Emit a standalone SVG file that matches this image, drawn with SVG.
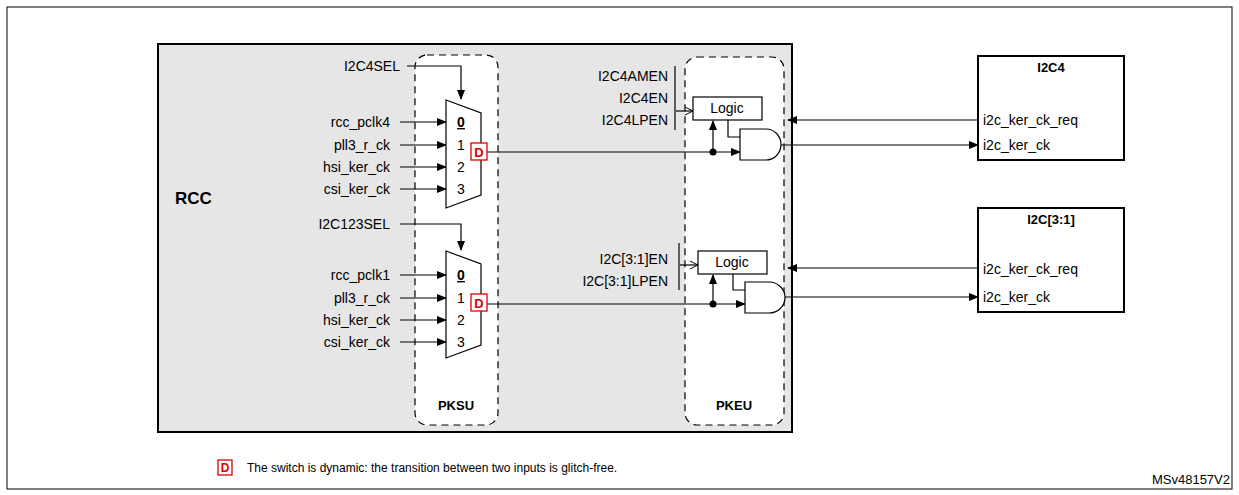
<svg xmlns="http://www.w3.org/2000/svg" width="1239" height="495" viewBox="0 0 1239 495">
<defs>
<marker id="ar" markerWidth="10" markerHeight="8" refX="9" refY="4" orient="auto" markerUnits="userSpaceOnUse"><path d="M0,0 L10,4 L0,8 z" fill="#000"/></marker>
<marker id="op" markerWidth="10" markerHeight="10" refX="9" refY="5" orient="auto" markerUnits="userSpaceOnUse"><path d="M1,1 L9,5 L1,9" fill="none" stroke="#000"/></marker>
</defs>
<style>
text{font-family:"Liberation Sans",Arial,sans-serif;font-size:14px;fill:#000}
.r{text-anchor:end}.m{text-anchor:middle}.b{font-weight:bold}
.l{stroke:#000;stroke-width:1.2;fill:none}
.dash{fill:#fff;stroke:#000;stroke-width:1.2;stroke-dasharray:7,5}
.box{fill:#fff;stroke:#000;stroke-width:1.2}
.tb{fill:#fff;stroke:#000;stroke-width:2}
.d{fill:#fff;stroke:#d00;stroke-width:1.3}
.dt{fill:#d00;font-weight:bold;font-size:13px;text-anchor:middle}
</style>
<rect x="7" y="7" width="1225" height="482" fill="#fff" stroke="#000" stroke-width="1"/>
<g id="rcc"><rect x="158" y="44" width="634" height="388" fill="#e6e6e6" stroke="#000" stroke-width="2"/><text x="175" y="204" class="b" style="font-size:17px">RCC</text></g>
<g id="pksu"><rect x="415" y="55" width="83" height="370" rx="12" class="dash"/><text x="456" y="410" class="m b" style="font-size:13px">PKSU</text></g>
<g id="pkeu"><rect x="685" y="57" width="99" height="368" rx="12" class="dash"/><text x="734" y="410" class="m b" style="font-size:13px">PKEU</text></g>
<g id="connectors">
<path class="l" d="M407,66 H461 V99" marker-end="url(#ar)"/>
<path class="l" d="M400,122 H446" marker-end="url(#ar)"/>
<path class="l" d="M400,145 H446" marker-end="url(#ar)"/>
<path class="l" d="M400,167 H446" marker-end="url(#ar)"/>
<path class="l" d="M400,189 H446" marker-end="url(#ar)"/>
<path class="l" d="M400,224 H461 V250" marker-end="url(#ar)"/>
<path class="l" d="M400,275 H446" marker-end="url(#ar)"/>
<path class="l" d="M400,298 H446" marker-end="url(#ar)"/>
<path class="l" d="M400,320 H446" marker-end="url(#ar)"/>
<path class="l" d="M400,342 H446" marker-end="url(#ar)"/>
<path class="l" d="M487,152 H740" marker-end="url(#ar)"/>
<circle cx="713" cy="152" r="3.5"/>
<path class="l" d="M713,152 V121" marker-end="url(#ar)"/>
<path class="l" d="M728,120 V137 H740"/>
<path class="l" d="M675,66 V130"/>
<path class="l" d="M676,111 H693" marker-end="url(#op)"/>
<path class="l" d="M978,120 H788" marker-end="url(#ar)"/>
<path class="l" d="M781,145 H978" marker-end="url(#ar)"/>
<path class="l" d="M487,304 H745" marker-end="url(#ar)"/>
<circle cx="713" cy="304" r="3.5"/>
<path class="l" d="M713,304 V275" marker-end="url(#ar)"/>
<path class="l" d="M733,274 V290 H745"/>
<path class="l" d="M679,243 V290"/>
<path class="l" d="M680,265 H698" marker-end="url(#op)"/>
<path class="l" d="M978,268 H788" marker-end="url(#ar)"/>
<path class="l" d="M785,297 H978" marker-end="url(#ar)"/>
</g>
<g id="labels">
<text x="400" y="71" class="r">I2C4SEL</text>
<text x="390" y="127" class="r">rcc_pclk4</text>
<text x="390" y="150" class="r">pll3_r_ck</text>
<text x="390" y="172" class="r">hsi_ker_ck</text>
<text x="390" y="194" class="r">csi_ker_ck</text>
<text x="390" y="229" class="r">I2C123SEL</text>
<text x="390" y="280" class="r">rcc_pclk1</text>
<text x="390" y="303" class="r">pll3_r_ck</text>
<text x="390" y="325" class="r">hsi_ker_ck</text>
<text x="390" y="347" class="r">csi_ker_ck</text>
<text x="668" y="81" class="r">I2C4AMEN</text>
<text x="668" y="103" class="r">I2C4EN</text>
<text x="668" y="125" class="r">I2C4LPEN</text>
<text x="668" y="264" class="r">I2C[3:1]EN</text>
<text x="668" y="286" class="r">I2C[3:1]LPEN</text>
</g>
<g id="mux1"><path class="box" d="M446,100 L481,113 V195 L446,208 Z"/>
<text x="461" y="127" class="m b" text-decoration="underline">0</text><text x="461" y="150" class="m">1</text><text x="461" y="172" class="m">2</text><text x="461" y="194" class="m">3</text>
<rect x="471" y="143" width="16" height="17" class="d"/><text x="479" y="157" class="dt">D</text></g>
<g id="mux2"><path class="box" d="M446,251 L481,264 V345 L446,358 Z"/>
<text x="461" y="280" class="m b" text-decoration="underline">0</text><text x="461" y="303" class="m">1</text><text x="461" y="325" class="m">2</text><text x="461" y="347" class="m">3</text>
<rect x="471" y="294" width="16" height="17" class="d"/><text x="479" y="308" class="dt">D</text></g>
<g id="logic1"><rect x="693" y="97" width="69" height="23" class="box"/><text x="727" y="113" class="m">Logic</text></g>
<g id="and1"><path class="box" d="M740,129 H766 A15,15.5 0 0 1 766,160 H740 Z"/></g>
<g id="logic2"><rect x="698" y="251" width="69" height="23" class="box"/><text x="732" y="267" class="m">Logic</text></g>
<g id="and2"><path class="box" d="M745,282 H769 A16,15.5 0 0 1 769,313 H745 Z"/></g>
<g id="i2c4"><rect x="978" y="56" width="146" height="104" class="tb"/><text x="1051" y="72" class="m b" style="font-size:13px">I2C4</text>
<text x="983" y="125">i2c_ker_ck_req</text><text x="983" y="150">i2c_ker_ck</text></g>
<g id="i2c31"><rect x="978" y="208" width="146" height="104" class="tb"/><text x="1051" y="224" class="m b" style="font-size:13px">I2C[3:1]</text>
<text x="983" y="274">i2c_ker_ck_req</text><text x="983" y="302">i2c_ker_ck</text></g>
<g id="legend"><rect x="218" y="460" width="14" height="15" class="d"/><text x="225" y="472" class="dt" style="font-size:12px">D</text>
<text x="247" y="472" style="font-size:12px">The switch is dynamic: the transition between two inputs is glitch-free.</text>
<text x="1230" y="484" class="r" style="font-size:13px">MSv48157V2</text></g>
</svg>
